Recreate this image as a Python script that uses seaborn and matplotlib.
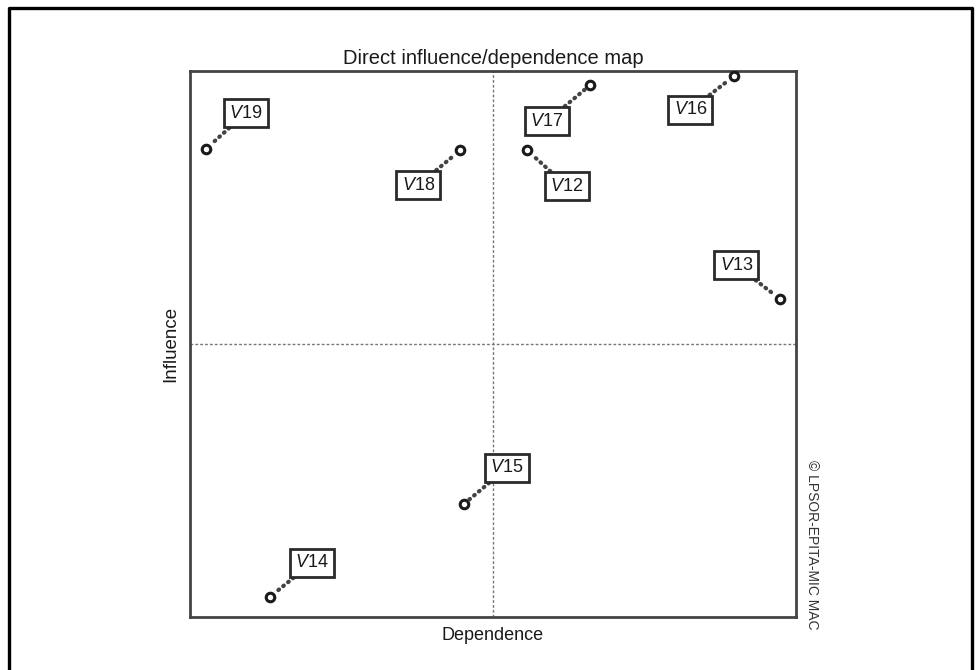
import matplotlib
matplotlib.use("Agg")
import matplotlib.pyplot as plt
import seaborn as sns
import pandas as pd
from matplotlib.lines import Line2D

sns.set_theme(style="white")
plt.rcParams['font.family'] = ['Liberation Sans', 'DejaVu Sans']
plt.rcParams['mathtext.fontset'] = 'custom'
plt.rcParams['mathtext.it'] = 'Liberation Sans:italic'
plt.rcParams['mathtext.rm'] = 'Liberation Sans'

# variables, dependence (x) and influence (y)
variables = ['V19', 'V18', 'V17', 'V12', 'V16', 'V13', 'V15', 'V14']
dependence = [2.6, 44.6, 66.0, 55.6, 89.8, 97.4, 45.2, 13.2]
influence = [85.7, 85.5, 97.4, 85.5, 99.1, 58.2, 20.7, 3.7]
# where each label box sits relative to its point (pixels)
label_dx = [40, -42, -43, 40, -44, -44, 43, 42]
label_dy = [36, -35, -36, -36, -34, 34, 36, 34]

df = pd.DataFrame({'var': variables, 'dep': dependence, 'inf': influence})

fig = plt.figure(figsize=(9.76, 6.70), dpi=100)
ax = fig.add_axes([0.1947, 0.0791, 0.6209, 0.8149])

# dotted quadrant lines
ax.axvline(50, color='#777777', lw=1, ls=(0, (2, 1.5)), zorder=1)
ax.axhline(50, color='#777777', lw=1, ls=(0, (2, 1.5)), zorder=1)

sns.scatterplot(data=df, x='dep', y='inf', ax=ax, s=38, facecolor='white',
                edgecolor='#1a1a1a', linewidth=2.2, zorder=4, legend=False)

for name, x, y, dx, dy in zip(variables, dependence, influence, label_dx, label_dy):
    lab = r'$V$' + name[1:]
    ax.annotate(lab, xy=(x, y), xytext=(dx, dy), textcoords='offset pixels',
                ha='center', va='center', fontsize=13, color='#1a1a1a', zorder=5,
                bbox=dict(boxstyle='square,pad=0.3', fc='white', ec='#2a2a2a', lw=2),
                arrowprops=dict(arrowstyle='-', color='#444444', lw=3,
                                ls=(0, (0.2, 1.3)), capstyle='round',
                                shrinkA=0, shrinkB=5))

ax.set_xlim(0, 100)
ax.set_ylim(0, 100)
ax.set_xticks([])
ax.set_yticks([])
for sp in ax.spines.values():
    sp.set_color('#444444')
    sp.set_linewidth(2)

ax.set_title('Direct influence/dependence map', fontsize=14.5, pad=5, color='#1a1a1a')
ax.set_xlabel('Dependence', fontsize=13, labelpad=7, color='#1a1a1a')
ax.set_ylabel('Influence', fontsize=13.5, labelpad=8, color='#1a1a1a')

fig.text(0.832, 0.187, '© LPSOR-EPITA-MIC MAC', rotation=270, fontsize=10,
         ha='center', va='center', color='#333333')

# outer frame (open at the bottom)
fig.add_artist(Line2D([0.0092, 0.0092, 0.9959, 0.9959], [0.0, 0.988, 0.988, 0.0],
                      transform=fig.transFigure, color='black', lw=2.4))

fig.savefig('out.png', dpi=100)
